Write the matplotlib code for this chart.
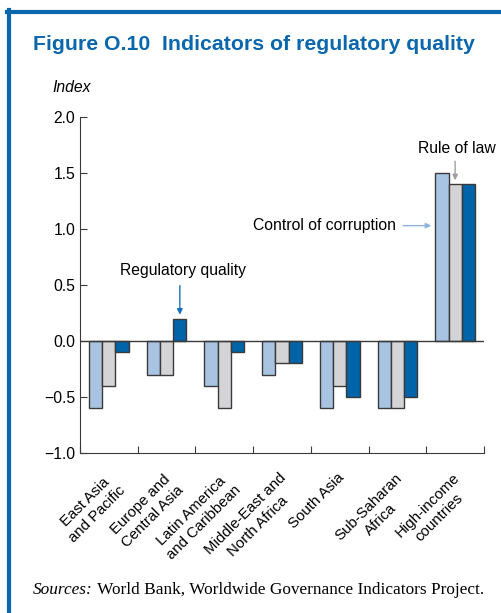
import numpy as np
import matplotlib.pyplot as plt
from matplotlib.lines import Line2D

# --- datos ---
regiones = ["East Asia\nand Pacific", "Europe and\nCentral Asia", "Latin America\nand Caribbean",
            "Middle-East and\nNorth Africa", "South Asia", "Sub-Saharan\nAfrica", "High-income\ncountries"]
control_corrupcion = [-0.6, -0.3, -0.4, -0.3, -0.6, -0.6, 1.5]
estado_derecho = [-0.4, -0.3, -0.6, -0.2, -0.4, -0.6, 1.4]
calidad_regulatoria = [-0.1, 0.2, -0.1, -0.2, -0.5, -0.5, 1.4]
yticks = [-1.0, -0.5, 0.0, 0.5, 1.0, 1.5, 2.0]

AZUL = "#0a66ad"
C_CLARO = "#a9c3e2"
C_GRIS = "#d4d4d6"
C_OSCURO = "#0064a8"
BORDE = "#3a3a3a"
FS = 11.3

plt.rcParams["font.family"] = ["Liberation Sans", "DejaVu Sans"]

W, H = 501, 613
fig = plt.figure(figsize=(W / 100, H / 100), dpi=100)

# marco azul (solo arriba e izquierda)
fig.add_artist(Line2D([9 / W, 9 / W], [0, 1 - 10 / H], color=AZUL, lw=3, transform=fig.transFigure))
fig.add_artist(Line2D([7 / W, 1], [1 - 12 / H, 1 - 12 / H], color=AZUL, lw=3, transform=fig.transFigure))

fig.text(33 / W, 1 - 45 / H, "Figure O.10  Indicators of regulatory quality", color=AZUL,
         fontsize=15.3, fontweight="bold", va="center", ha="left")
fig.text(52 / W, 1 - 88 / H, "Index", fontsize=FS, style="italic", va="center", ha="left")

ax = fig.add_axes([80 / W, 160 / H, 404 / W, 336 / H])
x = np.arange(len(regiones))
w = 0.23
ax.bar(x - w, control_corrupcion, w, color=C_CLARO, edgecolor=BORDE, lw=1)
ax.bar(x, estado_derecho, w, color=C_GRIS, edgecolor=BORDE, lw=1)
ax.bar(x + w, calidad_regulatoria, w, color=C_OSCURO, edgecolor=BORDE, lw=1)

ax.axhline(0, color=BORDE, lw=1)
ax.set_xlim(-0.5, len(regiones) - 0.5)
ax.set_ylim(-1.0, 2.0)
ax.set_yticks(yticks)
ax.set_yticklabels([f"{v:.1f}".replace("-", "\u2212") for v in yticks])
ax.set_xticks(np.arange(len(regiones) + 1) - 0.5)
ax.set_xticklabels([])
ax.tick_params(axis="both", direction="in", length=5, color=BORDE, labelsize=FS)
for s in ["top", "right"]:
    ax.spines[s].set_visible(False)
for s in ["left", "bottom"]:
    ax.spines[s].set_color(BORDE)

# etiquetas del eje x, rotadas a mano (dos lineas centradas)
for i, lab in enumerate(regiones):
    ax.text(i - 0.05, -1.16, lab, rotation=45, ha="right", va="top", rotation_mode="anchor",
            multialignment="center", fontsize=10.8, linespacing=1.3)

# anotaciones (texto y flecha por separado)
ax.text(1.285, 0.56, "Regulatory quality", ha="center", va="bottom", fontsize=FS)
ax.annotate("", xy=(1 + w, 0.21), xytext=(1 + w, 0.52),
            arrowprops=dict(arrowstyle="-|>", color="#1a70b8", lw=1, mutation_scale=8))
ax.text(4.98, 1.03, "Control of corruption", ha="right", va="center", fontsize=FS)
ax.annotate("", xy=(6 - 1.5 * w - 0.02, 1.03), xytext=(5.05, 1.03),
            arrowprops=dict(arrowstyle="-|>", color="#8fb4dc", lw=1, mutation_scale=8))
ax.text(6.03, 1.65, "Rule of law", ha="center", va="bottom", fontsize=FS)
ax.annotate("", xy=(6, 1.41), xytext=(6, 1.63),
            arrowprops=dict(arrowstyle="-|>", color="#a0a0a0", lw=1, mutation_scale=8))

t1 = fig.text(33 / W, 1 - 590 / H, "Sources:", family=["Liberation Serif", "DejaVu Serif"],
              style="italic", fontsize=12.4, va="center", ha="left")
ax.annotate(" World Bank, Worldwide Governance Indicators Project.", xy=(1, 0.5), xycoords=t1,
            va="center", ha="left", family=["Liberation Serif", "DejaVu Serif"], fontsize=12.4,
            annotation_clip=False)

fig.savefig("out.png", dpi=100)
